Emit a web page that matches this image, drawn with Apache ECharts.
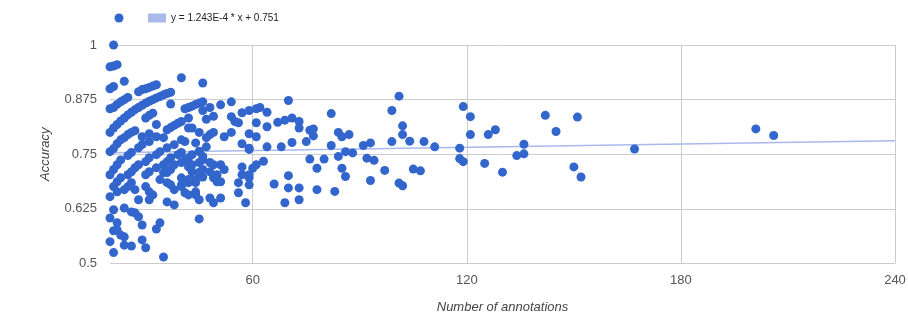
<!DOCTYPE html>
<html>
<head>
<meta charset="utf-8">
<script src="https://cdn.jsdelivr.net/npm/echarts@6/dist/echarts.min.js"></script>
<style>
  html, body { margin: 0; padding: 0; background: #fff; }
  #chart { width: 908px; height: 320px; }
</style>
</head>
<body>
<div id="chart"></div>
<script>
// [number of annotations, accuracy]
const denseLeft = [
  [21,1.0],[20,0.95],[21,0.952],[22,0.955],
  [20,0.9],[21,0.905],[24,0.917],
  [28,0.893],[29,0.898],[30,0.9],[31,0.903],[32,0.906],[33,0.909],
  [35,0.886],[36,0.889],[37,0.892],[40,0.925],[46,0.913],
  [20,0.854],[21,0.857],[22,0.864],[23,0.87],[24,0.875],[25,0.88],
  [26,0.846],[27,0.852],[28,0.857],[29,0.862],[30,0.867],[31,0.871],[32,0.875],[33,0.879],[34,0.882],
  [37,0.865],[41,0.854],[42,0.857],[43,0.86],[44,0.864],[45,0.867],[46,0.87],
  [20,0.8],[21,0.81],[22,0.818],[23,0.826],[24,0.833],[25,0.84],
  [30,0.833],[31,0.839],[32,0.844],
  [33,0.818],[36,0.806],[37,0.811],[38,0.816],[39,0.821],[40,0.825],
  [42,0.833],[42,0.81],[43,0.81],[45,0.8],
  [20,0.756],[21,0.763],[22,0.774],[23,0.783],[24,0.788],[25,0.795],[26,0.8],[27,0.804],
  [29,0.79],[31,0.797],[33,0.79],[35,0.788],[40,0.783],[41,0.779],[44,0.776],
  [20,0.703],[21,0.715],[22,0.726],[23,0.737],[25,0.747],[26,0.754],[28,0.765],[29,0.772],[31,0.779],
  [20,0.653],
  [21,0.676],[22,0.687],[23,0.696],[25,0.703],[26,0.71],[27,0.719],[28,0.726],[30,0.733],[31,0.742],
  [33,0.749],[34,0.756],[36,0.765],[38,0.772],
  [22,0.664],[24,0.669],[25,0.676],[26,0.685],[27,0.669],[28,0.646],
  [30,0.703],[31,0.71],[33,0.719],[35,0.726],[36,0.733],[37,0.742],[39,0.749],
  [36,0.708],[37,0.715],[38,0.726],[40,0.731],[41,0.737],
  [30,0.676],[31,0.664],[32,0.657],[31,0.646],
  [34,0.692],[36,0.685],[37,0.68],[36,0.641],[38,0.634],
  [38,0.669],[40,0.676],[42,0.685],[43,0.692],[45,0.698],[45,0.708],[35,0.708],[44,0.657],
  [40,0.754],[42,0.742],[43,0.749],[45,0.756],
  [42,0.721],[43,0.726],[45,0.731],[46,0.737],
  [43,0.71],[45,0.708],[46,0.715],
  [40,0.696],[42,0.692],[44,0.685],[46,0.698],
  [40,0.68],[41,0.662],[42,0.657],[44,0.664],[45,0.646],[45,0.602],
  [21,0.623],[24,0.627],[26,0.618],[27,0.616],[28,0.607],
  [20,0.604],[22,0.593],[29,0.588],
  [21,0.575],[22,0.577],[23,0.565],[24,0.561],[20,0.55],
  [34,0.593],[33,0.579],[29,0.554],
  [24,0.542],[26,0.54],[30,0.536],[21,0.525],[35,0.515]
];

const middle = [
  [46,0.85],[48,0.857],[49,0.837],[47,0.83],[51,0.863],[54,0.87],
  [54,0.836],[55,0.825],[56,0.822],
  [57,0.845],[59,0.85],[61,0.854],[62,0.857],[64,0.846],[61,0.822],[64,0.813],
  [47,0.788],[48,0.795],[49,0.8],[52,0.79],[54,0.8],[59,0.797],[61,0.79],
  [57,0.774],[59,0.764],[64,0.767],[47,0.767],[45,0.757],[46,0.745],
  [48,0.731],[49,0.726],[51,0.726],[48,0.71],[50,0.703],[52,0.715],
  [49,0.696],[50,0.687],[51,0.687],[48,0.65],[49,0.639],[51,0.65],
  [57,0.721],[57,0.703],[59,0.703],[59,0.696],[56,0.685],[59,0.68],[56,0.662],[58,0.639],
  [60,0.718],[61,0.726],[63,0.734],[59,0.761],
  [70,0.873],[82,0.843],
  [67,0.823],[69,0.828],[71,0.833],[73,0.825],[73,0.81],
  [76,0.805],[77,0.808],[77,0.792],[75,0.779],
  [84,0.8],[85,0.79],[87,0.795],[71,0.777],[68,0.767],[82,0.77],
  [86,0.756],[88,0.753],[91,0.77],[93,0.776],[92,0.741],[94,0.736],
  [84,0.745],[85,0.718],[86,0.699],
  [76,0.739],[78,0.718],[80,0.739],[93,0.69],
  [66,0.682],[70,0.701],[70,0.673],[73,0.673],[78,0.669],[83,0.665],
  [69,0.639],[73,0.646]
];

const sparseRight = [
  [101,0.883],[99,0.85],[102,0.815],[102,0.795],[99,0.779],[104,0.78],[108,0.779],[111,0.767],
  [97,0.713],[101,0.684],[102,0.678],[105,0.716],[107,0.712],
  [119,0.859],[121,0.836],[121,0.795],[118,0.764],[118,0.74],[119,0.733],
  [125,0.729],[126,0.795],[128,0.806],[130,0.709],
  [134,0.747],[136,0.751],[136,0.773],
  [142,0.839],[145,0.802],[150,0.721],[152,0.698],[151,0.835],
  [167,0.762],[201,0.808],[206,0.793]
];

const xTicks = [60, 120, 180, 240];
const trendSlope = 1.243e-4;
const trendIntercept = 0.751;
const trendLabel = 'y = 1.243E-4 * x + 0.751';
const trendX = [20, 240];

const points = denseLeft.concat(middle, sparseRight);
const trendData = trendX.map(x => [x, trendSlope * x + trendIntercept]);

const font = 'Arial, "Liberation Sans", sans-serif';
const chart = echarts.init(document.getElementById('chart'));

chart.setOption({
  animation: false,
  textStyle: { fontFamily: font },
  grid: { left: 110, right: 13, top: 45, bottom: 56.5, outerBoundsMode: 'none' },
  legend: [
    {
      data: [{ name: 'Accuracy', icon: 'circle' }],
      left: 114.5, top: 13.5, padding: 0,
      itemWidth: 9, itemHeight: 9,
      formatter: () => '',
      selectedMode: false
    },
    {
      data: [{ name: trendLabel, icon: 'rect' }],
      left: 148, top: 13, padding: 0,
      itemWidth: 18, itemHeight: 9,
      textStyle: { fontSize: 10, color: '#222', fontFamily: font },
      selectedMode: false
    }
  ],
  xAxis: {
    type: 'value',
    min: 20,
    max: 240,
    name: 'Number of annotations',
    nameLocation: 'middle',
    nameGap: 37,
    nameTextStyle: { fontStyle: 'italic', fontSize: 13, color: '#444', fontFamily: font },
    axisLine: { show: false },
    axisTick: { show: false, customValues: xTicks },
    axisLabel: { customValues: xTicks, fontSize: 13, color: '#555', margin: 10 },
    splitLine: { show: true, lineStyle: { color: '#cccccc', width: 1 } }
  },
  yAxis: {
    type: 'value',
    min: 0.5,
    max: 1,
    interval: 0.125,
    name: 'Accuracy',
    nameLocation: 'middle',
    nameGap: 58,
    nameRotate: 90,
    nameTextStyle: { fontStyle: 'italic', fontSize: 13, color: '#444', fontFamily: font },
    axisLine: { show: false },
    axisTick: { show: false },
    axisLabel: { fontSize: 13, color: '#555', margin: 13 },
    splitLine: { lineStyle: { color: '#cccccc', width: 1 } }
  },
  series: [
    {
      name: trendLabel,
      type: 'line',
      data: trendData,
      showSymbol: false,
      color: '#a8b9ea',
      lineStyle: { color: '#a8b9ea', width: 1.5 },
      z: 1,
      silent: true
    },
    {
      name: 'Accuracy',
      type: 'scatter',
      data: points,
      symbolSize: 9,
      clip: false,
      itemStyle: { color: '#3366cc', opacity: 1 },
      z: 2
    }
  ]
});
</script>
</body>
</html>
